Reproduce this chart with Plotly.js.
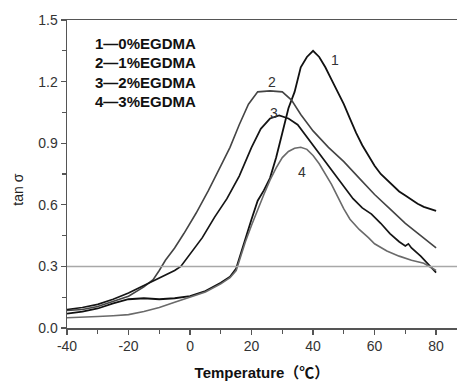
<!DOCTYPE html>
<html>
<head>
<meta charset="utf-8">
<script src="https://cdn.plot.ly/plotly-3.0.1.min.js"></script>
<style>html,body{margin:0;padding:0;background:#fff;}#chart{width:457px;height:383px;}</style>
</head>
<body>
<div id="chart"></div>
<script>
// Curve 1: 0% EGDMA
const t1 = [-40,-35,-30,-25,-20,-15,-10,-5,0,5,10,13,15,16,18,20,22,24,26,28,30,32,34,36,38,40,42,44,46,48,50,52,54,56,58,60,62,64,66,68,70,72,74,76,78,80];
const v1 = [0.07,0.08,0.095,0.12,0.14,0.145,0.14,0.145,0.155,0.18,0.22,0.25,0.29,0.34,0.43,0.53,0.62,0.67,0.73,0.83,0.95,1.07,1.15,1.27,1.32,1.35,1.32,1.27,1.21,1.15,1.09,1.02,0.95,0.89,0.84,0.79,0.75,0.72,0.69,0.665,0.645,0.625,0.605,0.59,0.58,0.57];
// Curve 2: 1% EGDMA
const t2 = [-40,-35,-30,-25,-20,-15,-12,-10,-8,-5,-2,2,6,10,13,16,19,22,26,30,33,36,40,45,50,55,60,65,70,75,80];
const v2 = [0.085,0.09,0.105,0.13,0.155,0.2,0.235,0.28,0.33,0.39,0.46,0.56,0.67,0.79,0.88,0.99,1.09,1.15,1.155,1.15,1.11,1.04,0.96,0.88,0.81,0.73,0.65,0.58,0.51,0.45,0.39];
// Curve 3: 2% EGDMA
const t3 = [-40,-35,-30,-25,-20,-14,-10,-5,-3,0,4,8,12,16,20,23,26,29,32,35,38,41,44,47,50,53,56,59,62,65,68,70,71,72,75,78,80];
const v3 = [0.09,0.10,0.115,0.14,0.17,0.215,0.245,0.28,0.30,0.36,0.44,0.54,0.63,0.74,0.88,0.97,1.02,1.035,1.02,0.99,0.93,0.87,0.81,0.75,0.69,0.63,0.585,0.555,0.51,0.46,0.42,0.40,0.41,0.39,0.35,0.30,0.27];
// Curve 4: 3% EGDMA
const t4 = [-40,-35,-30,-25,-20,-15,-10,-5,0,5,10,13,15,16,18,20,22,24,26,28,30,32,34,36,38,40,42,44,46,48,50,52,55,58,60,64,68,72,76,80];
const v4 = [0.05,0.052,0.056,0.06,0.065,0.08,0.10,0.125,0.15,0.175,0.215,0.245,0.28,0.33,0.42,0.50,0.58,0.65,0.72,0.78,0.83,0.86,0.875,0.88,0.87,0.84,0.80,0.75,0.70,0.64,0.58,0.53,0.48,0.44,0.41,0.375,0.35,0.33,0.315,0.28];

const legendLines = ['1—0%EGDMA','2—1%EGDMA','3—2%EGDMA','4—3%EGDMA'];
const curveLabels = ['1','2','3','4'];
const curveLabelT = [47.2, 26.8, 27.2, 36.4];
const curveLabelV = [1.305, 1.198, 1.046, 0.76];
const refLevel = 0.3;

const xTicks = [-40,-20,0,20,40,60,80];
const xTickText = ['-40','-20','0','20','40','60','80'];
const xMinor = [-30,-10,10,30,50,70];
const yTicks = [0,0.3,0.6,0.9,1.2,1.5];
const yTickText = ['0.0','0.3','0.6','0.9','1.2','1.5'];
const yMinor = [0.15,0.45,0.75,1.05,1.35];

const traces = [
  {x:t1, y:v1, mode:'lines', line:{color:'#111', width:1.8}},
  {x:t2, y:v2, mode:'lines', line:{color:'#444', width:1.6}},
  {x:t3, y:v3, mode:'lines', line:{color:'#151515', width:1.7}},
  {x:t4, y:v4, mode:'lines', line:{color:'#6a6a6a', width:1.6}}
];

const font = 'Liberation Sans, Arial, Noto Sans CJK SC, sans-serif';
const annotations = [];
const legendY = [1.387, 1.292, 1.198, 1.102];
legendLines.forEach((s,i)=>annotations.push({
  x:-31.6, y:legendY[i], xref:'x', yref:'y', text:s, showarrow:false,
  xanchor:'left', yanchor:'middle', font:{family:font, size:15, color:'#111', weight:'bold'}
}));
curveLabels.forEach((s,i)=>annotations.push({
  x:curveLabelT[i], y:curveLabelV[i], xref:'x', yref:'y', text:s, showarrow:false,
  xanchor:'center', yanchor:'middle', font:{family:font, size:14, color:'#333'}
}));
// y-axis title placed as rotated text
annotations.push({
  x:-0.125, y:0.45, xref:'paper', yref:'paper', text:'tan σ', showarrow:false, textangle:-90,
  xanchor:'center', yanchor:'middle', font:{family:font, size:14, color:'#222'}
});

const layout = {
  width:457, height:383,
  margin:{l:67, r:0, t:20, b:55, pad:0},
  paper_bgcolor:'#fff', plot_bgcolor:'#fff',
  showlegend:false,
  font:{family:font, size:14, color:'#333'},
  xaxis:{
    range:[-40,86.8], tickvals:xTicks, ticktext:xTickText, ticks:'outside', ticklen:5, tickwidth:1.3, tickcolor:'#555',
    showline:true, linecolor:'#555', linewidth:1.5, mirror:true, showgrid:false, zeroline:false,
    minor:{tickvals:xMinor, ticks:'outside', ticklen:4, tickcolor:'#555', tickwidth:1.3, showgrid:false},
    tickfont:{family:font, size:14, color:'#333'},
    title:{text:'Temperature（℃）', font:{family:font, size:15, color:'#111', weight:'bold'}, standoff:14}
  },
  yaxis:{
    range:[0,1.5], tickvals:yTicks, ticktext:yTickText, ticks:'outside', ticklen:5, tickwidth:1.3, tickcolor:'#555',
    showline:true, linecolor:'#555', linewidth:1.5, mirror:false, showgrid:false, zeroline:false,
    minor:{tickvals:yMinor, ticks:'outside', ticklen:4, tickcolor:'#555', tickwidth:1.3, showgrid:false},
    tickfont:{family:font, size:14, color:'#333'}
  },
  shapes:[{type:'line', xref:'paper', yref:'y', x0:0, x1:1, y0:refLevel, y1:refLevel, line:{color:'#a8a8a8', width:1.5}}],
  annotations:annotations
};

Plotly.newPlot('chart', traces, layout, {staticPlot:true, displayModeBar:false});
</script>
</body>
</html>
